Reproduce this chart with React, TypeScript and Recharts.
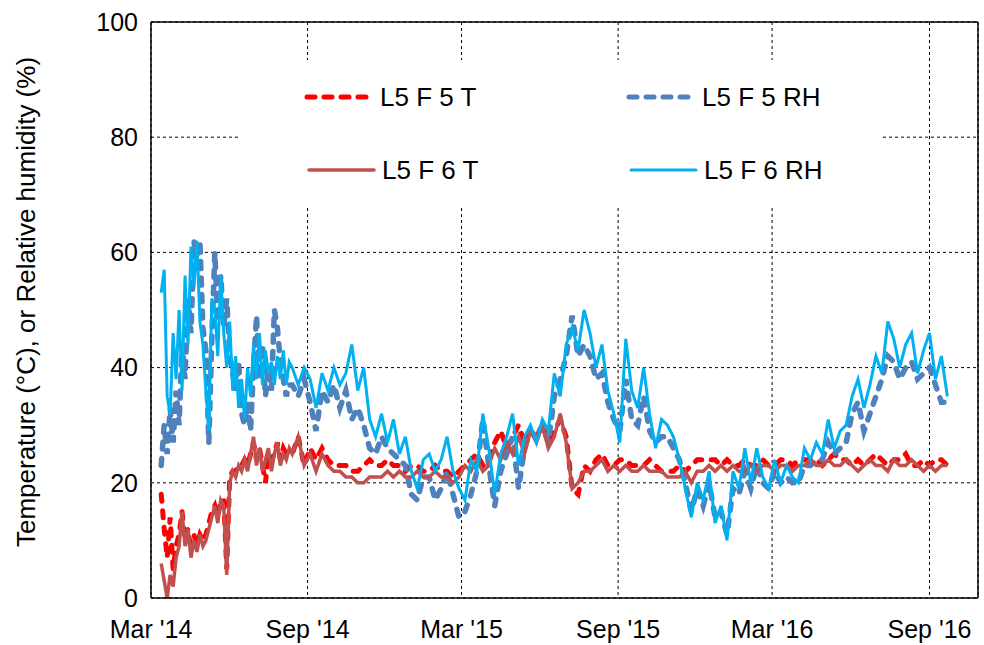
import React from "react";
import {
  LineChart,
  Line,
  XAxis,
  YAxis,
  CartesianGrid,
  ReferenceLine,
  Legend,
} from "recharts";

// days counted from 1 Mar 2014 (half-weekly readings for the first months, weekly afterwards)
const days = [
  12, 15.5, 19, 22.5, 26, 29.5, 33, 36.5, 40, 43.5, 47, 50.5, 54, 57.5, 61, 64.5, 68, 71.5, 75, 78.5, 82, 85.5,
  89, 92.5, 96, 99.5, 103, 106.5, 110, 113.5, 117, 120.5, 124, 127.5, 131, 134.5, 138, 141.5, 145, 148.5, 152, 155.5,
  159, 162.5,
  166, 173, 180, 187, 194, 201, 208, 215, 222, 229, 236, 243, 250, 257, 264, 271, 278, 285, 292, 299, 306,
  313, 320, 327, 334, 341, 348, 355, 362, 369, 376, 383, 390, 397, 404, 411, 418, 425, 432, 439, 446, 453, 460,
  467, 474, 481, 488, 495, 502, 509, 516, 523, 530, 537, 544, 551, 558, 565, 572, 579, 586, 593, 600, 607,
  614, 621, 628, 635, 642, 649, 656, 663, 670, 677, 684, 691, 698, 705, 712, 719, 726, 733, 740, 747,
  754, 761, 768, 775, 782, 789, 796, 803, 810, 817, 824, 831, 838, 845, 852, 859, 866, 873, 880, 887,
  894, 901, 908, 915, 922, 929, 936,
];

const f5T = [
  18, 12, 7, 14, 5, 9, 11, 15, 10, 12, 8, 11, 9, 11, 10, 11, 13, 15, 16, 14, 17, 17,
  5, 21, 22, 22, 23, 23, 24, 23, 25, 27, 24, 26, 23, 20, 25, 24, 25, 27, 24, 26, 25, 25,
  25, 28, 23, 26, 24, 26, 24, 23, 23, 23, 22, 22, 23, 24, 23, 23, 24, 23, 23, 22, 23, 23, 22,
  22, 23, 22, 22, 21, 22, 23, 24, 25, 23, 24, 27, 29, 26, 28, 30, 27, 29, 28, 30, 27, 29, 31, 28,
  19, 18, 23, 22, 24, 25, 23, 23, 24, 24, 23, 23, 23, 24, 23, 22, 22, 22, 23, 22, 23, 24, 24, 24,
  24, 23, 24, 23, 23, 24, 23, 23, 24, 23, 23, 24, 24, 23, 24, 24, 24, 24, 23, 24,
  25, 24, 24, 23, 24, 23, 24, 25, 24, 23, 24, 24, 25, 23, 23, 24, 23, 24, 24, 23,
];

const f5RH = [
  23, 30, 25, 33, 27, 36, 30, 44, 38, 52, 46, 62, 58, 62, 47, 43, 27, 45, 60, 48, 56, 47,
  52, 42, 39, 36, 41, 32, 30, 34, 29, 40, 49, 38, 44, 35, 40, 36, 50, 47, 41, 38, 35, 37,
  37, 35, 38, 34, 29, 36, 34, 37, 33, 36, 31, 33, 30, 26, 25, 28, 26, 25, 24, 23, 18, 17, 21,
  21, 17, 19, 22, 18, 14, 15, 18, 22, 31, 23, 16, 22, 25, 28, 19, 26, 29, 28, 30, 27, 35, 38, 42,
  49, 42, 44, 42, 38, 39, 34, 31, 29, 38, 31, 30, 35, 29, 27, 28, 28, 26, 24, 20, 15, 19, 16, 20,
  14, 15, 11, 19, 18, 22, 19, 23, 20, 19, 22, 20, 21, 20, 20, 23, 23, 24, 24, 27, 25, 26, 27,
  32, 34, 29, 32, 35, 38, 42, 41, 38, 40, 41, 38, 39, 40, 37, 34, 34,
];

const f6T = [
  6, 3, 0, 4, 2, 7, 9, 15, 9, 12, 7, 10, 8, 11, 9, 10, 12, 14, 16, 13, 17, 16,
  4, 20, 22, 21, 23, 22, 24, 22, 25, 28, 23, 26, 22, 24, 26, 22, 25, 27, 23, 25, 24, 26,
  25, 28, 23, 25, 22, 25, 23, 22, 22, 21, 21, 20, 20, 21, 21, 21, 22, 21, 22, 21, 21, 22, 21,
  21, 22, 21, 21, 20, 21, 23, 22, 24, 22, 23, 26, 24, 27, 25, 28, 25, 29, 27, 30, 26, 28, 32, 27,
  19, 20, 22, 22, 23, 24, 22, 23, 22, 23, 22, 22, 23, 22, 22, 22, 21, 21, 21, 22, 20, 22, 22, 23,
  22, 23, 22, 23, 22, 22, 23, 22, 23, 23, 22, 23, 23, 22, 23, 23, 24, 23, 23, 24,
  23, 23, 24, 23, 22, 23, 24, 23, 23, 22, 24, 23, 23, 24, 23, 22, 23, 22, 23, 23,
];

const f6RH = [
  53, 57, 35, 32, 46, 38, 50, 36, 56, 44, 61, 54, 62, 48, 44, 36, 29, 52, 50, 42, 56, 46,
  40, 48, 36, 42, 33, 38, 31, 40, 35, 44, 38, 46, 37, 43, 39, 41, 37, 42, 38, 43, 37, 41,
  40, 37, 40, 38, 33, 39, 36, 40, 37, 39, 44, 36, 40, 31, 28, 32, 27, 31, 25, 28, 22, 19, 24,
  25, 22, 24, 28, 22, 19, 17, 24, 22, 32, 26, 18, 25, 28, 32, 23, 28, 30, 27, 31, 29, 39, 35, 44,
  47, 43, 50, 46, 40, 44, 36, 32, 27, 45, 36, 33, 40, 32, 26, 31, 30, 28, 24, 19, 14, 20, 17, 22,
  13, 16, 10, 22, 19, 26, 20, 26, 21, 19, 24, 20, 23, 21, 20, 26, 24, 27, 25, 31, 26, 29, 30,
  35, 38, 33, 37, 42, 39, 48, 45, 40, 44, 46, 39, 43, 46, 38, 42, 35,
];

const xTicks = [0, 184, 365, 549, 730, 915];
const xTickLabels = ["Mar '14", "Sep '14", "Mar '15", "Sep '15", "Mar '16", "Sep '16"];
const yTicks = [0, 20, 40, 60, 80, 100];

const data = days.map((d, i) => ({
  day: d,
  f5T: f5T[i],
  f5RH: f5RH[i],
  f6T: f6T[i],
  f6RH: f6RH[i],
}));

const FONT = "'Liberation Sans', Arial, sans-serif";

const legendItems = [
  { name: "L5 F 5 T", color: "#FF0000", dash: "8 9", width: 5, left: 64, top: 37 },
  { name: "L5 F 5 RH", color: "#4F81BD", dash: "8 9", width: 5, left: 386, top: 37 },
  { name: "L5 F 6 T", color: "#C0504D", dash: undefined, width: 3.5, left: 66, top: 110 },
  { name: "L5 F 6 RH", color: "#00B0F0", dash: undefined, width: 3, left: 388, top: 110 },
];

function LegendBox() {
  return (
    <div style={{ position: "relative", width: 640, height: 145, background: "#fff" }}>
      {legendItems.map((it) => (
        <div
          key={it.name}
          style={{
            position: "absolute",
            left: it.left,
            top: it.top - 17,
            height: 34,
            display: "flex",
            alignItems: "center",
          }}
        >
          <svg width={72} height={34}>
            <line
              x1={3}
              y1={17}
              x2={68}
              y2={17}
              stroke={it.color}
              strokeWidth={it.width}
              strokeDasharray={it.dash}
              strokeLinecap="round"
            />
          </svg>
          <span style={{ fontFamily: FONT, fontSize: 26, color: "#000", marginLeft: 4, lineHeight: "34px" }}>
            {it.name}
          </span>
        </div>
      ))}
    </div>
  );
}

function YLabel() {
  return (
    <text
      x={26}
      y={302}
      transform="rotate(-90 26 302)"
      textAnchor="middle"
      dominantBaseline="central"
      fontSize={26}
      fill="#000"
      fontFamily={FONT}
    >
      Temperature (°C), or Relative humidity (%)
    </text>
  );
}

export default function App() {
  return (
    <div style={{ position: "absolute", left: 0, top: 0, width: 984, height: 645, background: "#fff" }}>
      <LineChart width={984} height={645} data={data} margin={{ top: 22, right: 6, left: 0, bottom: 0 }}>
        <CartesianGrid stroke="#000" strokeDasharray="3 3" strokeWidth={1} />
        <XAxis
          dataKey="day"
          type="number"
          domain={[0, 972]}
          ticks={xTicks}
          tickFormatter={(v) => xTickLabels[xTicks.indexOf(v)]}
          height={47}
          tickLine={false}
          tickMargin={16}
          axisLine={{ stroke: "#000", strokeWidth: 1.5 }}
          tick={{ fontSize: 25, fill: "#000", fontFamily: FONT }}
          interval={0}
        />
        <YAxis
          domain={[0, 100]}
          ticks={yTicks}
          width={151}
          tickLine={false}
          tickMargin={7}
          axisLine={{ stroke: "#000", strokeWidth: 1.5 }}
          tick={{ fontSize: 25, fill: "#000", fontFamily: FONT }}
          label={{ content: () => <YLabel /> }}
        />
        <ReferenceLine y={100} stroke="#000" strokeWidth={1.5} />
        <ReferenceLine x={972} stroke="#000" strokeWidth={1.5} />
        <Line
          dataKey="f5T"
          stroke="#FF0000"
          strokeWidth={5}
          strokeDasharray="7 9.5"
          strokeLinecap="round"
          dot={false}
          isAnimationActive={false}
        />
        <Line
          dataKey="f5RH"
          stroke="#4F81BD"
          strokeWidth={5.5}
          strokeDasharray="7 9.5"
          strokeLinecap="round"
          dot={false}
          isAnimationActive={false}
        />
        <Line dataKey="f6T" stroke="#C0504D" strokeWidth={3.5} dot={false} isAnimationActive={false} />
        <Line dataKey="f6RH" stroke="#00B0F0" strokeWidth={3} dot={false} isAnimationActive={false} />
        <Legend
          layout="horizontal"
          verticalAlign="middle"
          align="center"
          content={() => <LegendBox />}
          wrapperStyle={{ left: 240, top: 60, width: 640, height: 145 }}
        />
      </LineChart>
    </div>
  );
}
